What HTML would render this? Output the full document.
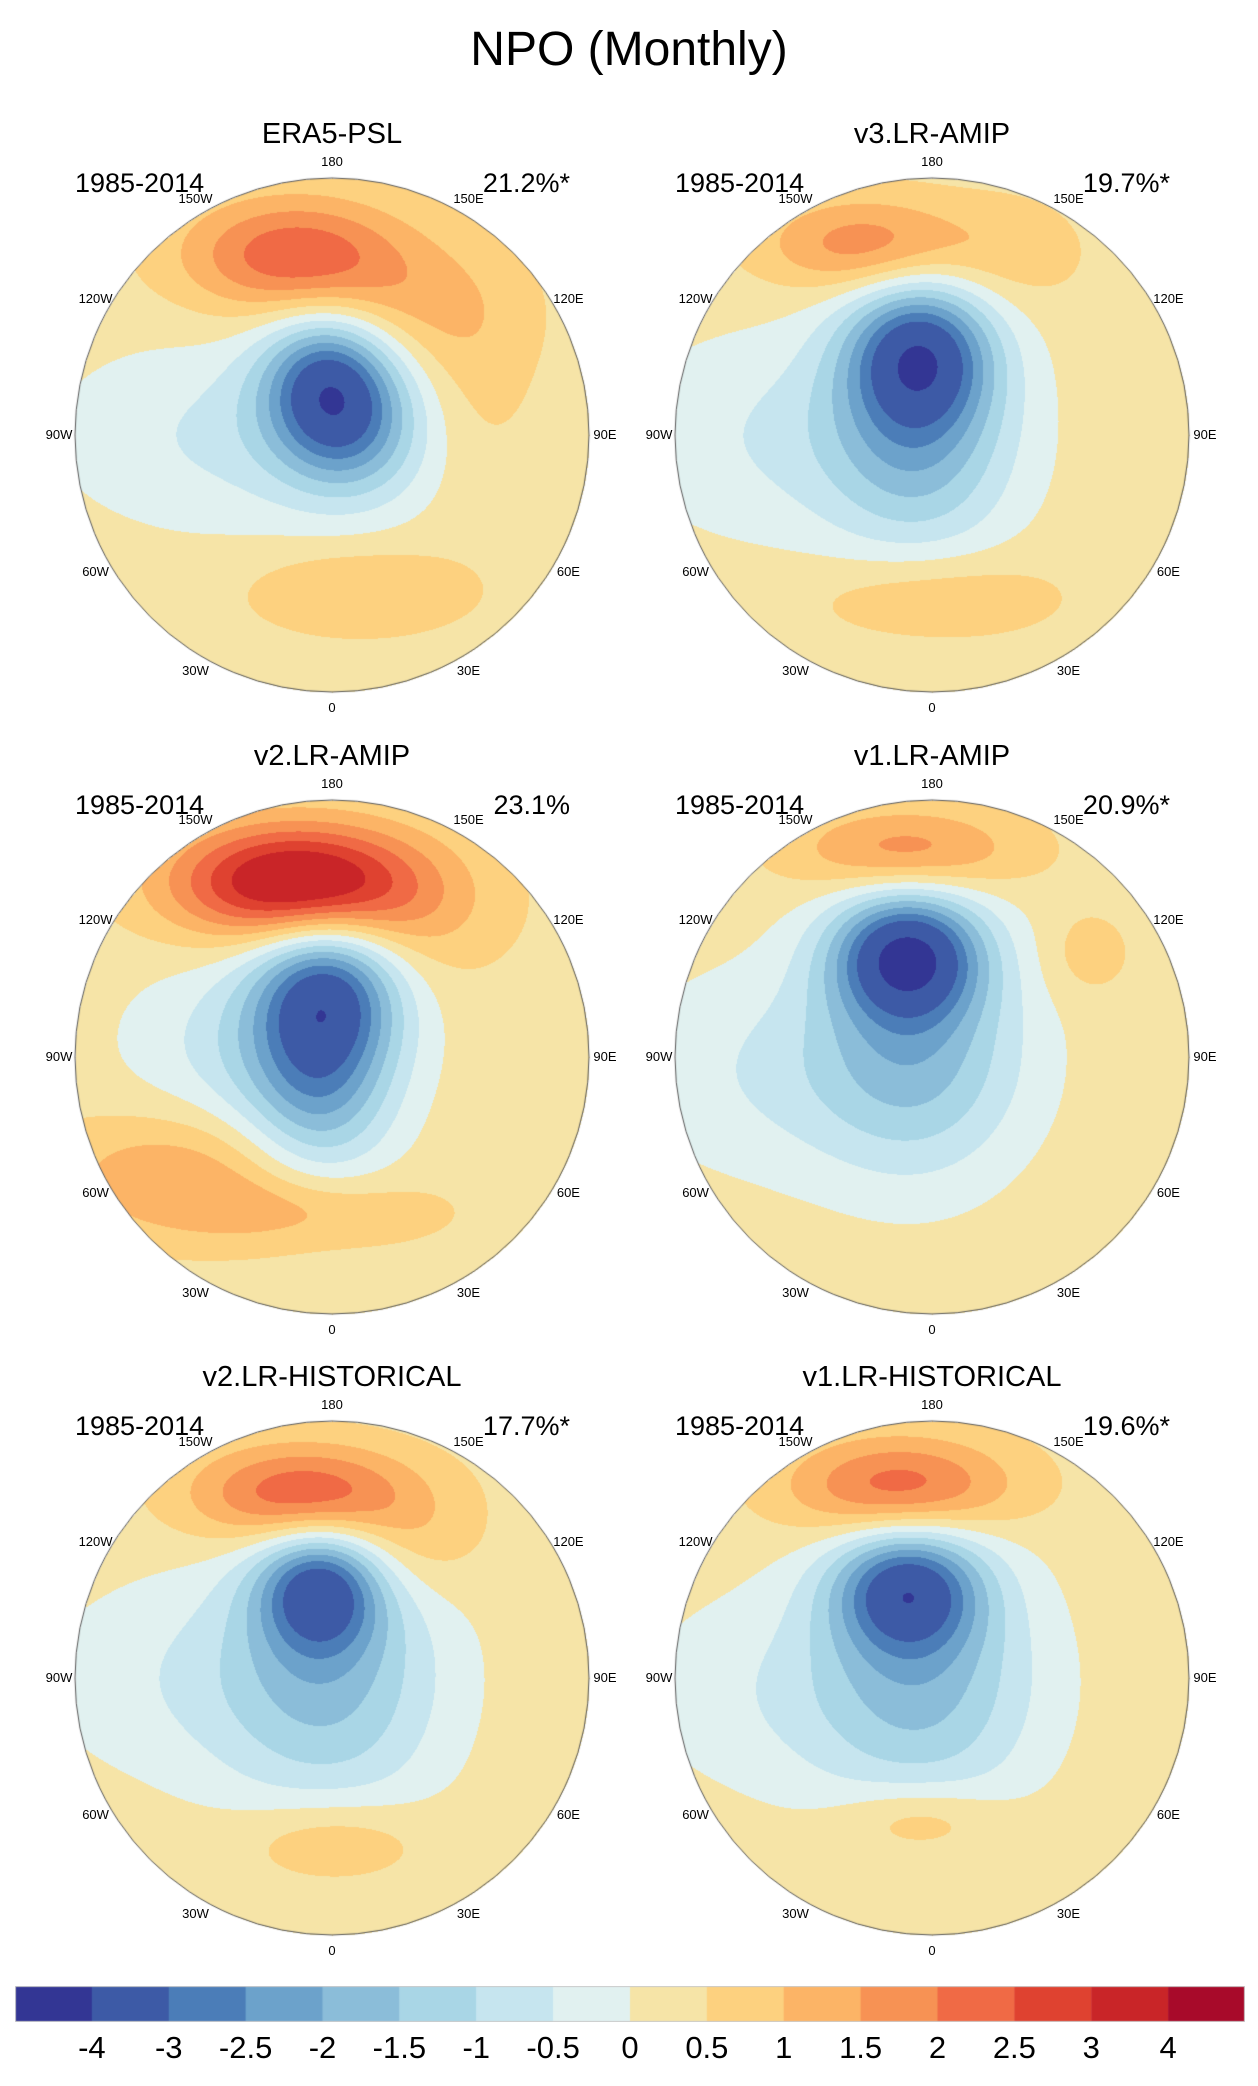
<!DOCTYPE html>
<html><head><meta charset="utf-8">
<style>
body{margin:0;background:#fff;width:1258px;height:2086px;position:relative;overflow:hidden;font-family:"Liberation Sans",sans-serif;}
.t{position:absolute;white-space:nowrap;color:#000;}
canvas{position:absolute;}
</style></head><body>
<div class="t" style="left:0;width:1258px;text-align:center;top:22px;font-size:48px;">NPO (Monthly)</div>
<div id="root"></div>
<canvas id="cb" width="1230" height="36" style="left:15px;top:1986px"></canvas>
<div id="cbl"></div>
<script>
const levels=[-4,-3,-2.5,-2,-1.5,-1,-0.5,0,0.5,1,1.5,2,2.5,3,4];
const colors=["#333694","#3d5aa6","#4b7db8","#6ca2cb","#8bbdd9","#a9d6e6","#c6e5ef","#e1f1f0","#f6e4a7","#fdd17f","#fcb466","#f79254","#f06a45","#df4230","#c92528","#a80a2a"];
const titles=["ERA5-PSL","v3.LR-AMIP","v2.LR-AMIP","v1.LR-AMIP","v2.LR-HISTORICAL","v1.LR-HISTORICAL"];
const pcts=["21.2%*","19.7%*","23.1%","20.9%*","17.7%*","19.6%*"];
// blobs: [x, y, amplitude, sx, sy] in units of circle radius
const blobs0=[[-0.15,-0.70,2.1,0.3,0.16],[0.25,-0.5,0.8,0.3,0.18],[-0.02,-0.22,-2.9,0.18,0.2],[0.08,-0.02,-1.6,0.2,0.2],[-0.35,0.0,-0.9,0.5,0.27],[0.1,0.6,0.75,0.3,0.12],[0.55,-0.2,0.45,0.18,0.3]];
const blobs1=[[-0.25,-0.74,1.6,0.28,0.13],[-0.05,-0.32,-3.4,0.2,0.2],[-0.05,0.05,-1.6,0.25,0.3],[-0.5,0.0,-0.85,0.5,0.3],[0.0,0.62,0.75,0.33,0.12],[0.3,-0.7,0.5,0.2,0.15]];
const blobs2=[[-0.15,-0.68,3.6,0.33,0.16],[0.2,-0.55,0.8,0.3,0.2],[-0.02,-0.27,-3.3,0.2,0.22],[-0.05,0.15,-1.8,0.2,0.25],[-0.3,-0.05,-1.0,0.35,0.25],[-0.6,0.45,1.1,0.35,0.17],[-0.1,0.6,0.8,0.35,0.1]];
const blobs3=[[-0.1,-0.8,1.6,0.3,0.12],[-0.1,-0.4,-3.7,0.2,0.17],[-0.05,-0.05,-1.6,0.28,0.35],[-0.5,0.05,-0.85,0.5,0.3],[0.6,-0.4,0.5,0.12,0.12]];
const blobs4=[[-0.1,-0.71,2.5,0.3,0.14],[-0.05,-0.35,-3.0,0.17,0.17],[0.0,0.0,-1.5,0.3,0.4],[-0.45,0.0,-0.75,0.5,0.3],[0.0,0.63,0.9,0.25,0.12],[0.3,-0.5,0.6,0.2,0.15]];
const blobs5=[[-0.12,-0.74,2.2,0.3,0.14],[-0.1,-0.35,-3.1,0.2,0.17],[-0.02,0.0,-1.5,0.3,0.38],[-0.45,0.05,-0.75,0.5,0.3],[-0.05,0.55,0.9,0.22,0.1]];
const allBlobs=[blobs0,blobs1,blobs2,blobs3,blobs4,blobs5];
const R=257, base=0.3;
const root=document.getElementById('root');
function lvl(v){let i=0;while(i<levels.length&&v>=levels[i])i++;return i;}
function hex(c){return [parseInt(c.substr(1,2),16),parseInt(c.substr(3,2),16),parseInt(c.substr(5,2),16)];}
const rgb=colors.map(hex);
const lons=[["180",0],["150E",30],["120E",60],["90E",90],["60E",120],["30E",150],["0",180],["30W",210],["60W",240],["90W",270],["120W",300],["150W",330]];
allBlobs.forEach((bl,k)=>{
  const cx=332+(k%2)*600, cy=435+Math.floor(k/2)*621.5;
  const cv=document.createElement('canvas');
  cv.width=2*R+4;cv.height=2*R+4;
  cv.style.left=(cx-R-2)+'px';cv.style.top=(cy-R-2)+'px';
  
  
  root.appendChild(cv);
  const ctx=cv.getContext('2d');
  const img=ctx.createImageData(cv.width,cv.height);
  for(let py=0;py<cv.height;py++)for(let px=0;px<cv.width;px++){
    const x=(px-R-2)/R,y=(py-R-2)/R;
    if(x*x+y*y>1)continue;
    let v=base;
    for(const b of bl){const dx=(x-b[0])/b[3],dy=(y-b[1])/b[4];v+=b[2]*Math.exp(-0.5*(dx*dx+dy*dy));}
    const c=rgb[lvl(v)],o=(py*cv.width+px)*4;
    img.data[o]=c[0];img.data[o+1]=c[1];img.data[o+2]=c[2];img.data[o+3]=255;
  }
  ctx.putImageData(img,0,0);
  ctx.beginPath();ctx.arc(R+2,R+2,R,0,2*Math.PI);ctx.strokeStyle='#555';ctx.lineWidth=1;ctx.stroke();
  const t=document.createElement('div');t.className='t';
  
  
  t.style.cssText=`left:${cx-300}px;width:600px;text-align:center;top:${cy-317}px;font-size:29px;`;
  t.textContent=titles[k];root.appendChild(t);
  const p=document.createElement('div');p.className='t';
  
  
  p.style.cssText=`left:${cx-257}px;top:${cy-267}px;font-size:27px;`;
  p.textContent='1985-2014';root.appendChild(p);
  const q=document.createElement('div');q.className='t';
  
  
  q.style.cssText=`left:${cx+38}px;width:200px;text-align:right;top:${cy-267}px;font-size:27px;`;
  q.textContent=pcts[k];root.appendChild(q);
  lons.forEach(([s,a])=>{
    const ang=a*Math.PI/180, rr=R+16;
    const lx=cx+rr*Math.sin(ang), ly=cy-rr*Math.cos(ang);
    const d=document.createElement('div');d.className='t';
    
    
    d.style.cssText=`left:${lx-30}px;width:60px;text-align:center;top:${ly-8}px;font-size:13px;`;
    d.textContent=s;root.appendChild(d);
  });
});
const cb=document.getElementById('cb').getContext('2d');
const w=1230/colors.length;
colors.forEach((c,i)=>{cb.fillStyle=c;cb.fillRect(i*w,0,w+0.5,36);});
cb.strokeStyle='#ccc';cb.strokeRect(0.5,0.5,1229,35);
const cbl=document.getElementById('cbl');
levels.forEach((l,i)=>{
  const d=document.createElement('div');d.className='t';
  
  
  d.style.cssText=`left:${15+(i+1)*w-40}px;width:80px;text-align:center;top:2030px;font-size:31px;`;
  d.textContent=l;cbl.appendChild(d);
});
</script>
</body></html>
